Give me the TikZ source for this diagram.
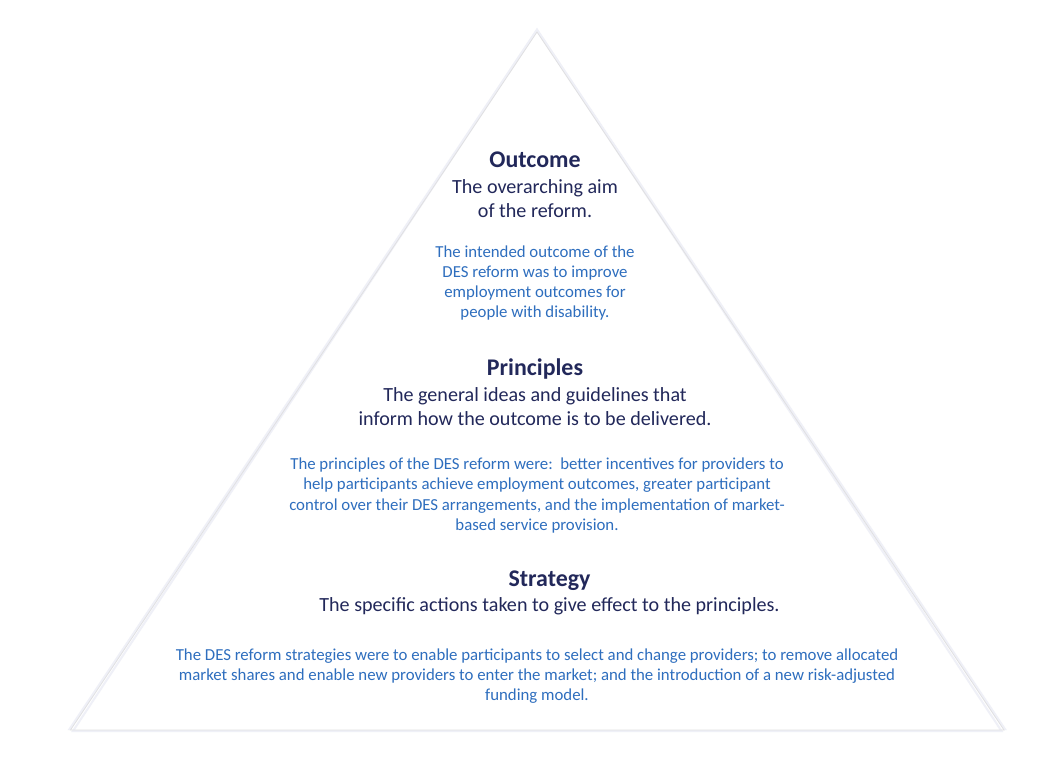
\documentclass[tikz,border=0pt]{standalone}
\usepackage{fontspec}
\setmainfont{Carlito}
\definecolor{navy}{HTML}{22285A}
\definecolor{detailblue}{HTML}{2E6EBE}
\definecolor{edgegray}{HTML}{E0E0E2}
\definecolor{glow}{HTML}{EFF0F7}
\tikzset{
  titletext/.style={text=navy, font=\fontsize{23.9}{28}\selectfont\bfseries, align=center, inner sep=0pt},
  bodytext/.style={text=navy, font=\fontsize{20.1}{24.5}\selectfont, align=center, inner sep=0pt},
  detailtext/.style={text=detailblue, font=\fontsize{16.8}{20.3}\selectfont, align=center, inner sep=0pt},
}
\begin{document}
\begin{tikzpicture}[x=1pt,y=-1pt]
\useasboundingbox[fill=white] (0,0) rectangle (1056,767);
% triangle with soft glow
\coordinate (apex) at (537,32);
\coordinate (bl) at (70.5,730);
\coordinate (br) at (1004,730);
\draw[glow, line width=3pt, line join=miter] ([yshift=1.5]apex) -- ([yshift=1.5]bl) -- ([yshift=1.5]br) -- cycle;
\fill[white] (apex) -- (bl) -- (br) -- cycle;
\draw[glow, line width=2pt] ([yshift=2]apex) -- ([xshift=2.5,yshift=-1]bl) -- ([xshift=-2.5,yshift=-1]br) -- cycle;
\draw[edgegray, line width=0.8pt] (apex) -- (bl) -- (br) -- cycle;

% Outcome
\node[titletext] (outT) at (535,160) {Outcome};
\node[bodytext] (outB) at (535,198.5) {The overarching aim\\of the reform.};
\node[detailtext] (outD) at (535,283) {The intended outcome of the\\DES reform was to improve\\employment outcomes for\\people with disability.};

% Principles
\node[titletext] (prT) at (535,369) {Principles};
\node[bodytext] (prB) at (535,406.5) {The general ideas and guidelines that\\inform how the outcome is to be delivered.};
\node[detailtext] (prD) at (537,495.5) {The principles of the DES reform were:\ \ better incentives for providers to\\help participants achieve employment outcomes, greater participant\\control over their DES arrangements, and the implementation of market-\\based service provision.};

% Strategy
\node[titletext] (stT) at (549.5,580.5) {Strategy};
\node[bodytext] (stB) at (549.5,606) {The specific actions taken to give effect to the principles.};
\node[detailtext] (stD) at (537,676) {The DES reform strategies were to enable participants to select and change providers; to remove allocated\\market shares and enable new providers to enter the market; and the introduction of a new risk-adjusted\\funding model.};
\end{tikzpicture}
\end{document}
